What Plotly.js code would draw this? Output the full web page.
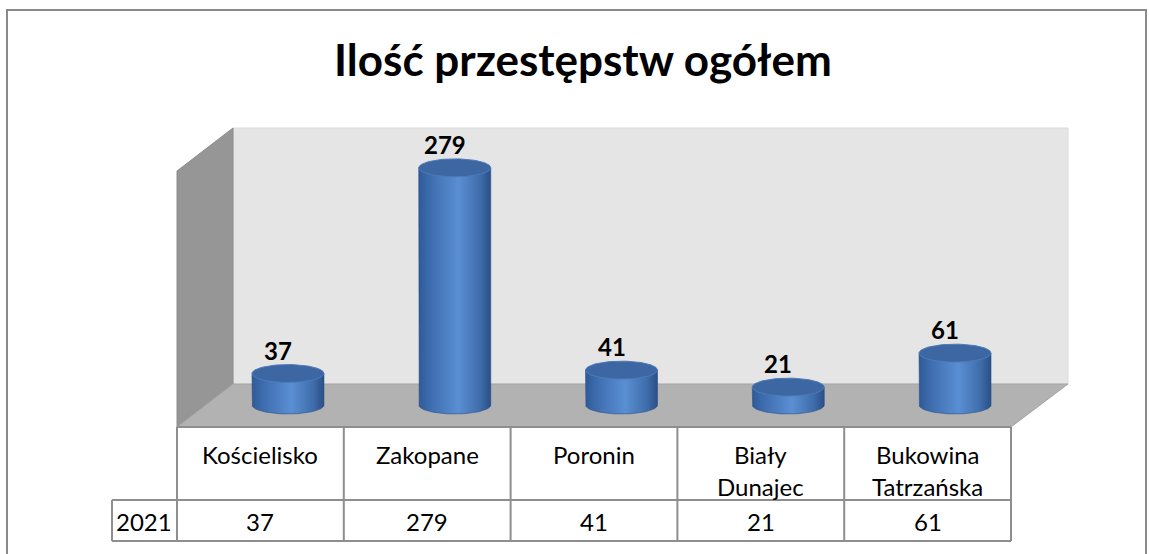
<!DOCTYPE html>
<html>
<head>
<meta charset="utf-8">
<script src="https://cdn.plot.ly/plotly-3.0.1.min.js"></script>
<style>html,body{margin:0;padding:0;background:#fff;}#chart{width:1149px;height:554px;}</style>
</head>
<body>
<div id="chart"></div>
<script>
// ---- data ----
const chartTitle = 'Ilość przestępstw ogółem';
const categories = ['Kościelisko', 'Zakopane', 'Poronin', 'Biały Dunajec', 'Bukowina Tatrzańska'];
const values = [37, 279, 41, 21, 61];
const seriesName = '2021';

// ---- layout helpers ----
const W = 1149, H = 554;
const px = x => x / W;
const py = y => 1 - y / H;
const P = (x, y) => px(x) + ',' + py(y);

// plot axes geometry (pixels)
const xLeft = 204.6, xRight = 1038.4;   // range [-0.5, 4.5]
const yZero = 405, yTop = 150;          // value 0 and value 300
const yMax = 300, yMin = -30;
const unitX = (xRight - xLeft) / categories.length;
const unitY = (yZero - yTop) / yMax;
const yBottomPx = yZero - yMin * unitY;
const a = 36 / unitX;      // cylinder half width (x units)
const b = 9 / unitY;       // ellipse half height (y units)

const traces = [];
const N = 40;
categories.forEach((c, i) => {
  const v = values[i];
  // body
  const bx = [], by = [];
  bx.push(i - a); by.push(v);
  for (let k = 0; k <= N; k++) {
    const t = Math.PI * k / N;
    bx.push(i - a * Math.cos(t));
    by.push(-b * Math.sin(t));
  }
  bx.push(i + a); by.push(v);
  bx.push(i - a); by.push(v);
  traces.push({
    type: 'scatter', mode: 'lines', x: bx, y: by, fill: 'toself',
    line: {width: 0.6, color: '#2c4f86'},
    fillcolor: '#4a7cc0',
    fillgradient: {type: 'horizontal', colorscale: [[0, '#2f5a96'], [0.15, '#3d6cae'], [0.55, '#5a8fd3'], [0.85, '#3f6dab'], [1, '#2a4f86']]},
    hoverinfo: 'skip', showlegend: false
  });
  // top ellipse
  const tx = [], ty = [];
  for (let k = 0; k <= 2 * N; k++) {
    const t = Math.PI * k / N;
    tx.push(i + a * Math.cos(t));
    ty.push(v + b * Math.sin(t));
  }
  traces.push({
    type: 'scatter', mode: 'lines', x: tx, y: ty, fill: 'toself',
    line: {width: 1, color: '#4d7bb8'},
    fillcolor: '#3d67a2',
    hoverinfo: 'skip', showlegend: false
  });
});

const gridCol = '#8e8e8e';
const shapes = [];
// outer border
shapes.push({type: 'rect', xref: 'paper', yref: 'paper', x0: px(7), x1: px(1146), y0: py(560), y1: py(10), line: {color: '#8a8a8a', width: 2}, layer: 'below'});
// back wall
shapes.push({type: 'path', xref: 'paper', yref: 'paper', layer: 'below',
  path: `M${P(233,128)} L${P(1068,128)} L${P(1068,384)} L${P(233,384)} Z`,
  fillcolor: '#e5e5e5', line: {color: '#dcdcdc', width: 1}});
// left wall
shapes.push({type: 'path', xref: 'paper', yref: 'paper', layer: 'below',
  path: `M${P(177,171)} L${P(233,128)} L${P(233,384)} L${P(177,427)} Z`,
  fillcolor: '#969696', line: {color: '#8c8c8c', width: 1}});
// floor
shapes.push({type: 'path', xref: 'paper', yref: 'paper', layer: 'below',
  path: `M${P(177,427)} L${P(233,384)} L${P(1068,384)} L${P(1011,427)} Z`,
  fillcolor: '#b2b2b2', line: {color: '#a4a4a4', width: 1}});

// data table
const tL = 112, t0 = 177, t1 = 1011, rTop = 427, rMid = 500, rBot = 541;
const colW = (t1 - t0) / categories.length;
const hline = (x0, x1, y) => shapes.push({type: 'line', xref: 'paper', yref: 'paper', x0: px(x0), x1: px(x1), y0: py(y), y1: py(y), line: {color: gridCol, width: 2}});
const vline = (x, y0, y1) => shapes.push({type: 'line', xref: 'paper', yref: 'paper', x0: px(x), x1: px(x), y0: py(y0), y1: py(y1), line: {color: gridCol, width: 2}});
hline(t0, t1, rTop);
hline(tL, t1, rMid);
hline(tL, t1, rBot);
vline(tL, rMid, rBot);
for (let k = 0; k <= categories.length; k++) vline(t0 + k * colW, rTop, rBot);

const annotations = [];
const tableFont = {family: 'Lato, "Open Sans", sans-serif', size: 24, color: '#000'};
categories.forEach((c, i) => {
  const cx = t0 + (i + 0.5) * colW;
  c.split(' ').forEach((line, j) => {
    annotations.push({xref: 'paper', yref: 'paper', x: px(cx), y: py(454 + j * 32), text: line, showarrow: false, xanchor: 'center', yanchor: 'middle', font: tableFont});
  });
  annotations.push({xref: 'paper', yref: 'paper', x: px(cx), y: py(521), text: String(values[i]), showarrow: false, xanchor: 'center', yanchor: 'middle', font: tableFont});
  // data label
  annotations.push({xref: 'x', yref: 'y', x: i, y: values[i], text: '<b>' + values[i] + '</b>', showarrow: false, xanchor: 'center', yanchor: 'bottom', xshift: -10, yshift: 7,
    font: {family: 'Lato, "Open Sans", sans-serif', size: 24, color: '#000'}});
});
annotations.push({xref: 'paper', yref: 'paper', x: px(144), y: py(521), text: seriesName, showarrow: false, xanchor: 'center', yanchor: 'middle', font: tableFont});

const layout = {
  width: W, height: H,
  margin: {l: 0, r: 0, t: 0, b: 0},
  paper_bgcolor: '#ffffff', plot_bgcolor: 'rgba(0,0,0,0)',
  title: {text: '<b>' + chartTitle + '</b>', x: px(583), xanchor: 'center', y: py(61), yanchor: 'middle', yref: 'container',
    font: {family: 'Lato, "Open Sans", sans-serif', size: 44, color: '#000'}},
  xaxis: {range: [-0.5, categories.length - 0.5], domain: [px(xLeft), px(xRight)], visible: false, fixedrange: true},
  yaxis: {range: [yMin, yMax], domain: [py(yBottomPx), py(yTop)], visible: false, fixedrange: true},
  shapes: shapes,
  annotations: annotations,
  showlegend: false
};

Plotly.newPlot('chart', traces, layout, {displayModeBar: false, staticPlot: true});
</script>
</body>
</html>
